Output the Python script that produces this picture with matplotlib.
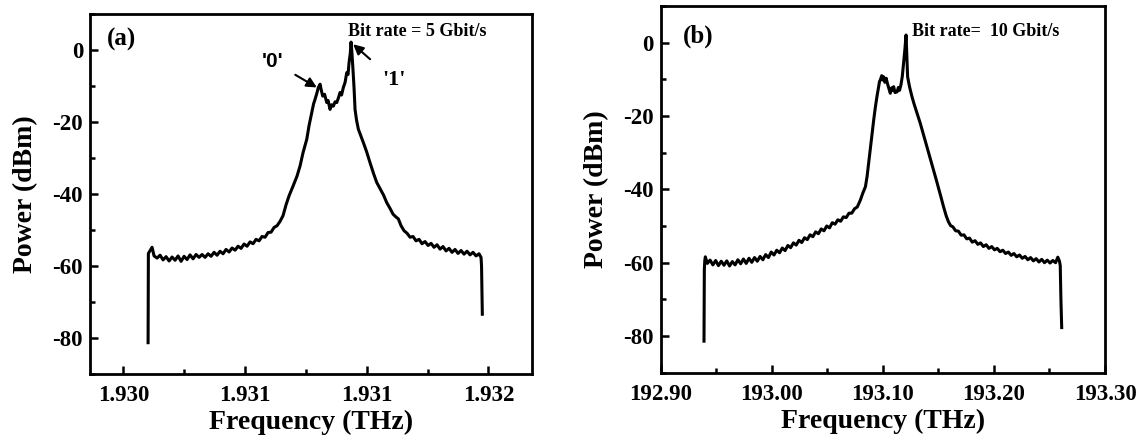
import matplotlib
matplotlib.use("Agg")
from matplotlib import pyplot as plt
from matplotlib import ticker

plt.rcParams['font.family'] = ['Liberation Serif', 'DejaVu Serif']
plt.rcParams['font.weight'] = 'bold'
plt.rcParams['axes.unicode_minus'] = False

# panel (a): bit rate 5 Gbit/s
freq_a = [1.9301015, 1.9301027, 1.9301118, 1.9301179, 1.9301261, 1.9301385,
          1.9301508, 1.9301631, 1.9301754, 1.9301878, 1.9302001, 1.9302124,
          1.9302247, 1.9302371, 1.9302494, 1.9302617, 1.9302740, 1.9302864,
          1.9302987, 1.9303110, 1.9303233, 1.9303357, 1.9303480, 1.9303603,
          1.9303726, 1.9303850, 1.9303973, 1.9304096, 1.9304219, 1.9304343,
          1.9304466, 1.9304589, 1.9304712, 1.9304836, 1.9304959, 1.9305082,
          1.9305205, 1.9305329, 1.9305452, 1.9305575, 1.9305698, 1.9305822,
          1.9305945, 1.9306068, 1.9306191, 1.9306315, 1.9306438, 1.9306561,
          1.9306684, 1.9306808, 1.9306972, 1.9307136, 1.9307260, 1.9307383,
          1.9307535, 1.9307629, 1.9307740, 1.9307814, 1.9307876, 1.9307958,
          1.9308012, 1.9308082, 1.9308143, 1.9308192, 1.9308266, 1.9308357,
          1.9308410, 1.9308492, 1.9308554, 1.9308628, 1.9308698, 1.9308768,
          1.9308841, 1.9308903, 1.9308965, 1.9309039, 1.9309109, 1.9309178,
          1.9309232, 1.9309273, 1.9309322, 1.9309355, 1.9309388, 1.9309425,
          1.9309478, 1.9309519, 1.9309581, 1.9309655, 1.9309766, 1.9309860,
          1.9309992, 1.9310135, 1.9310279, 1.9310411, 1.9310546, 1.9310690,
          1.9310822, 1.9310957, 1.9311081, 1.9311204, 1.9311298, 1.9311409,
          1.9311533, 1.9311656, 1.9311779, 1.9311902, 1.9312026, 1.9312149,
          1.9312272, 1.9312395, 1.9312519, 1.9312642, 1.9312765, 1.9312888,
          1.9313012, 1.9313135, 1.9313258, 1.9313381, 1.9313505, 1.9313628,
          1.9313751, 1.9313874, 1.9313998, 1.9314121, 1.9314244, 1.9314367,
          1.9314491, 1.9314614, 1.9314696, 1.9314717, 1.9314749]
power_a = [-81.3, -56.5, -55.5, -54.8, -57.2, -57.8,
           -57.0, -58.3, -57.4, -58.6, -57.5, -58.4,
           -57.2, -58.7, -57.3, -58.2, -56.9, -58.0,
           -56.8, -57.6, -56.8, -57.6, -56.6, -57.3,
           -56.2, -57.0, -55.9, -56.6, -55.4, -56.1,
           -55.0, -55.6, -54.5, -55.1, -53.9, -54.5,
           -53.3, -53.8, -52.6, -53.0, -51.8, -52.0,
           -50.7, -50.6, -49.3, -48.8, -47.6, -46.0,
           -43.0, -40.5, -37.8, -35.0, -32.2, -28.5,
           -24.8, -21.0, -17.4, -15.0, -13.7, -11.8,
           -10.4, -9.5, -11.5, -12.8, -12.3, -14.6,
           -14.0, -16.5, -15.2, -15.6, -14.4, -14.6,
           -13.2, -11.8, -12.5, -10.4, -9.0, -6.3,
           -6.8, -3.5, -1.0, 2.2, -0.5, -4.4,
           -10.5, -16.5, -19.5, -22.0, -24.0, -25.7,
           -28.2, -31.3, -34.3, -36.8, -38.5, -40.3,
           -42.4, -44.0, -45.6, -46.4, -46.9, -48.8,
           -50.2, -50.9, -52.0, -51.8, -53.0, -52.6,
           -53.8, -53.2, -54.3, -53.7, -54.8, -54.1,
           -55.3, -54.6, -55.8, -55.1, -56.2, -55.4,
           -56.5, -55.7, -56.7, -55.9, -56.9, -56.2,
           -57.2, -56.6, -57.6, -60.0, -73.4]

# panel (b): bit rate 10 Gbit/s
freq_b = [192.9390, 192.9393, 192.9397, 192.9402, 192.9420, 192.9445,
          192.9470, 192.9495, 192.9520, 192.9545, 192.9570, 192.9595,
          192.9620, 192.9645, 192.9670, 192.9695, 192.9720, 192.9745,
          192.9770, 192.9795, 192.9820, 192.9845, 192.9870, 192.9895,
          192.9920, 192.9945, 192.9970, 192.9995, 193.0020, 193.0045,
          193.0070, 193.0095, 193.0120, 193.0145, 193.0170, 193.0195,
          193.0220, 193.0245, 193.0270, 193.0295, 193.0320, 193.0345,
          193.0370, 193.0395, 193.0420, 193.0445, 193.0470, 193.0495,
          193.0520, 193.0545, 193.0570, 193.0595, 193.0620, 193.0645,
          193.0670, 193.0695, 193.0720, 193.0745, 193.0770, 193.0798,
          193.0820, 193.0843, 193.0858, 193.0872, 193.0888, 193.0903,
          193.0918, 193.0933, 193.0948, 193.0962, 193.0970, 193.0978,
          193.0990, 193.1000, 193.1007, 193.1018, 193.1030, 193.1042,
          193.1055, 193.1067, 193.1080, 193.1090, 193.1097, 193.1110,
          193.1128, 193.1140, 193.1150, 193.1163, 193.1175, 193.1187,
          193.1198, 193.1209, 193.1215, 193.1223, 193.1240, 193.1262,
          193.1280, 193.1300, 193.1320, 193.1337, 193.1367, 193.1397,
          193.1427, 193.1457, 193.1480, 193.1500, 193.1525, 193.1546,
          193.1570, 193.1590, 193.1610, 193.1630, 193.1655, 193.1680,
          193.1705, 193.1730, 193.1755, 193.1780, 193.1805, 193.1830,
          193.1855, 193.1880, 193.1905, 193.1930, 193.1955, 193.1980,
          193.2005, 193.2030, 193.2055, 193.2080, 193.2105, 193.2130,
          193.2155, 193.2180, 193.2205, 193.2230, 193.2255, 193.2280,
          193.2305, 193.2330, 193.2355, 193.2380, 193.2405, 193.2430,
          193.2455, 193.2480, 193.2505, 193.2530, 193.2555, 193.2575,
          193.2590, 193.2597, 193.2603, 193.2610]
power_b = [-81.4, -62.0, -59.5, -58.4, -60.2, -59.3,
           -60.6, -59.4, -60.8, -59.6, -60.7, -59.5,
           -60.9, -59.7, -60.6, -59.2, -60.3, -59.0,
           -60.2, -58.8, -59.9, -58.6, -59.6, -58.3,
           -59.2, -57.8, -58.6, -57.1, -57.9, -56.6,
           -57.3, -56.0, -56.7, -55.3, -55.9, -54.6,
           -55.2, -53.9, -54.5, -53.2, -53.7, -52.4,
           -52.9, -51.6, -52.1, -50.8, -51.3, -50.0,
           -50.5, -49.1, -49.5, -48.3, -48.7, -47.5,
           -47.7, -46.5, -46.5, -45.3, -44.8, -42.9,
           -41.0, -39.3, -36.5, -32.9, -28.8, -24.7,
           -21.0, -17.5, -14.5, -12.0, -10.6, -10.1,
           -9.0, -10.2, -9.3, -10.8, -9.7, -11.2,
           -12.5, -13.8, -12.3, -13.0, -12.0, -13.6,
           -13.4, -12.2, -13.0, -11.5, -9.2, -5.6,
           -2.0, 2.1, -2.5, -9.3, -12.0, -14.7,
           -16.6, -18.5, -20.4, -22.0, -25.2, -28.4,
           -31.6, -34.7, -37.3, -39.5, -42.3, -44.7,
           -47.2, -48.8, -49.9, -50.2, -51.3, -51.4,
           -52.5, -52.4, -53.5, -53.3, -54.4, -54.0,
           -55.0, -54.6, -55.6, -55.1, -56.1, -55.6,
           -56.5, -56.1, -57.0, -56.6, -57.5, -57.1,
           -58.0, -57.5, -58.4, -57.9, -58.8, -58.3,
           -59.2, -58.6, -59.5, -58.9, -59.8, -59.1,
           -60.0, -59.3, -60.1, -59.4, -60.0, -58.5,
           -59.6, -60.8, -70.0, -77.7]

ticks_a = [1.9300, 1.9305, 1.9310, 1.9315]
ticklabels_a = ['1.930', '1.931', '1.931', '1.932']
minor_a = [1.93025, 1.93075, 1.93125]
ticks_b = [192.90, 193.00, 193.10, 193.20, 193.30]

fig = plt.figure(figsize=(11.47, 4.42), dpi=100)
ax1 = fig.add_axes([0.0785, 0.1538, 0.3851, 0.8145])
ax2 = fig.add_axes([0.576, 0.1568, 0.3874, 0.8296])

for ax in (ax1, ax2):
    for side in ax.spines:
        ax.spines[side].set_linewidth(2.0)
    ax.set_ylim(-90, 10)
    ax.yaxis.set_major_locator(ticker.MultipleLocator(20))
    ax.yaxis.set_minor_locator(ticker.MultipleLocator(10))
    ax.tick_params(which='both', direction='in', top=False, right=False,
                   labelsize=16.5, width=1.8)
    ax.tick_params(which='major', length=6)
    ax.tick_params(which='minor', length=3.5)
    ax.tick_params(axis='x', pad=8)
    ax.tick_params(axis='y', pad=5)
    ax.set_xlabel('Frequency (THz)', fontsize=20, fontweight='bold', labelpad=3)
    ax.set_ylabel('Power (dBm)', fontsize=20, fontweight='bold', labelpad=10)

# (a)
ax1.plot(freq_a, power_a, color='black', linewidth=2.2)
ax1.set_xlim(1.929863, 1.931678)
ax1.xaxis.set_major_locator(ticker.FixedLocator(ticks_a))
ax1.xaxis.set_major_formatter(ticker.FixedFormatter(ticklabels_a))
ax1.xaxis.set_minor_locator(ticker.FixedLocator(minor_a))
ax1.text(1.929933, 3, '(a)', fontsize=18, fontweight='bold', va='center', ha='left')
ax1.text(1.930923, 5.2, 'Bit rate = 5 Gbit/s', fontsize=13, fontweight='bold',
         va='center', ha='left')
ax1.annotate("'0'", xy=(1.930795, -10.4), xytext=(1.930611, -3.1),
             fontsize=15, fontweight='bold', family=['Liberation Sans'],
             ha='center', va='center',
             arrowprops=dict(arrowstyle='-|>', color='black', lw=1.5,
                             mutation_scale=15, shrinkA=8, shrinkB=0))
ax1.annotate("'1'", xy=(1.930944, 1.6), xytext=(1.931112, -8.4),
             fontsize=16, fontweight='bold', ha='center', va='center',
             arrowprops=dict(arrowstyle='-|>', color='black', lw=1.5,
                             mutation_scale=15, shrinkA=9, shrinkB=0))

# (b)
ax2.plot(freq_b, power_b, color='black', linewidth=2.2)
ax2.set_xlim(192.90, 193.30)
ax2.xaxis.set_major_locator(ticker.FixedLocator(ticks_b))
ax2.xaxis.set_major_formatter(ticker.FormatStrFormatter('%.2f'))
ax2.xaxis.set_minor_locator(ticker.MultipleLocator(0.05))
ax2.text(192.92, 1.8, '(b)', fontsize=18, fontweight='bold', va='center', ha='left')
ax2.text(193.1265, 3, 'Bit rate=  10 Gbit/s', fontsize=13, fontweight='bold',
         va='center', ha='left')

fig.savefig('out.png', dpi=100)
